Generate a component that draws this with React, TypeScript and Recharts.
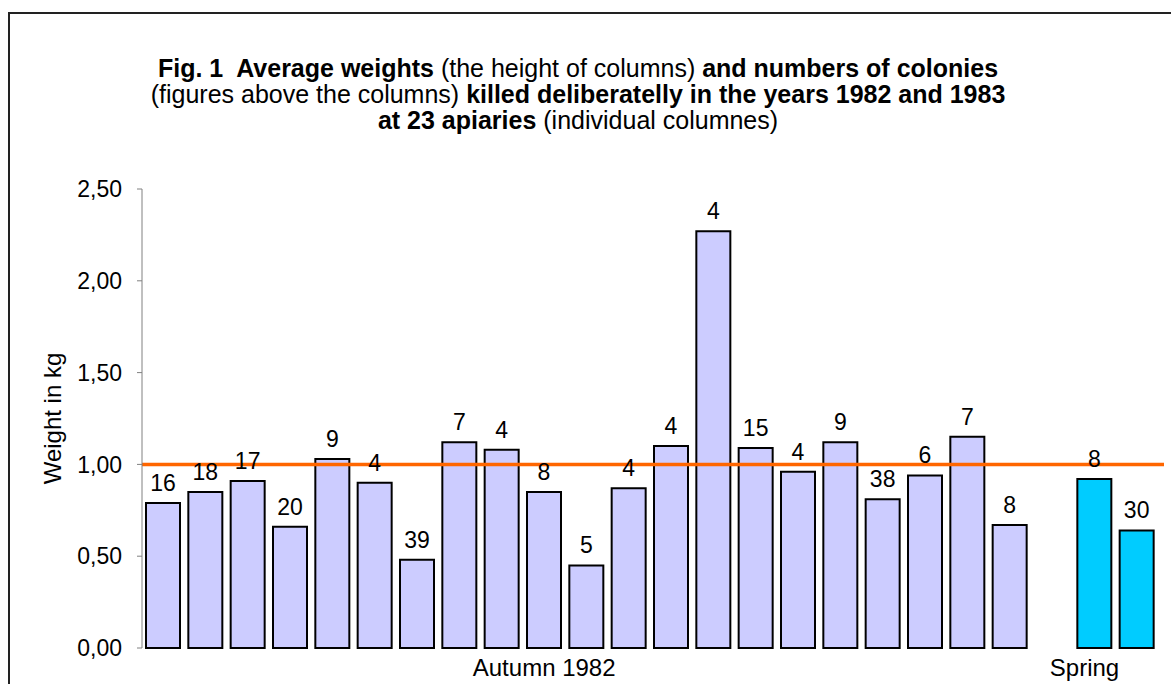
import React from 'react';
import { BarChart, Bar, XAxis, YAxis, Cell, LabelList, ReferenceLine } from 'recharts';

const autumnWeights = [0.79, 0.85, 0.91, 0.66, 1.03, 0.9, 0.48, 1.12, 1.08, 0.85, 0.45, 0.87, 1.1, 2.27, 1.09, 0.96, 1.12, 0.81, 0.94, 1.15, 0.67];
const autumnColonies = [16, 18, 17, 20, 9, 4, 39, 7, 4, 8, 5, 4, 4, 4, 15, 4, 9, 38, 6, 7, 8];
const springWeights = [0.92, 0.64];
const springColonies = [8, 30];
const groupLabels = ['Autumn 1982', 'Spring'];
const autumnLabelIndex = 9;
const springLabelIndex = 22;
const yTicks = [0, 0.5, 1, 1.5, 2, 2.5];
const referenceValue = 1;

const AUTUMN_FILL = '#CCCCFF';
const SPRING_FILL = '#00CCFF';
const FONT = '"Liberation Sans", Arial, Helvetica, sans-serif';

type Row = { slot: string; weight: number | null; colonies: number | null; group: string; label: string };

const data: Row[] = [];
autumnWeights.forEach((w, i) => {
  data.push({ slot: 'a' + i, weight: w, colonies: autumnColonies[i], group: 'autumn', label: i === autumnLabelIndex ? groupLabels[0] : '' });
});
data.push({ slot: 'gap', weight: null, colonies: null, group: 'gap', label: '' });
springWeights.forEach((w, i) => {
  const idx = data.length;
  data.push({ slot: 's' + i, weight: w, colonies: springColonies[i], group: 'spring', label: idx === springLabelIndex ? groupLabels[1] : '' });
});

const XTick = (props: any) => {
  const { x, y, index } = props;
  const row = data[index];
  const text = row ? row.label : '';
  if (!text) return null;
  const dx = row.group === 'spring' ? -10 : 0;
  return (
    <text x={x + dx} y={y} dy={28} textAnchor="middle" fill="#000" fontSize={24} fontFamily={FONT}>
      {text}
    </text>
  );
};

const ColonyLabel = (props: any) => {
  const { x, y, width, value } = props;
  if (value === null || value === undefined) return null;
  return (
    <text x={x + width / 2} y={y - 12} textAnchor="middle" fill="#000" fontSize={23} fontFamily={FONT}>
      {value}
    </text>
  );
};

export default function App() {
  return (
    <div style={{ position: 'absolute', left: 0, top: 0, width: 1171, height: 684, overflow: 'hidden', background: '#fff', fontFamily: FONT }}>
      <div style={{ position: 'absolute', left: 8, top: 12, width: 1200, height: 700, borderLeft: '2px solid #222', borderTop: '2px solid #222' }} />
      <div style={{ position: 'absolute', left: 0, top: 55, width: 1156, textAlign: 'center', fontSize: 25, lineHeight: '26px', color: '#000' }}>
        <div><b>Fig. 1&nbsp; Average weights</b> (the height of columns) <b>and numbers of colonies</b></div>
        <div>(figures above the columns) <b>killed deliberatelly in the years 1982 and 1983</b></div>
        <div><b>at 23 apiaries</b> (individual columnes)</div>
      </div>
      <div style={{ position: 'absolute', left: 0, top: 0 }}>
        <BarChart width={1171} height={684} data={data} margin={{ top: 189, right: 7, bottom: 0, left: 82 }}>
          <XAxis
            dataKey="slot"
            type="category"
            height={36}
            interval={0}
            axisLine={false}
            tickLine={false}
            tickSize={0}
            tickMargin={0}
            padding={{ left: 0, right: 6 }}
            tick={<XTick />}
          />
          <YAxis
            type="number"
            width={60}
            domain={[0, 2.5]}
            ticks={yTicks}
            interval={0}
            tickSize={5}
            tickMargin={15}
            stroke="#808080"
            tick={{ fill: '#000', fontSize: 23, fontFamily: FONT }}
            tickFormatter={(v: number) => v.toFixed(2).replace('.', ',')}
            label={{ value: 'Weight in kg', angle: -90, position: 'center', dx: -60, fill: '#000', fontSize: 24, fontFamily: FONT }}
          />
          <Bar dataKey="weight" barSize={34} stroke="#000" strokeWidth={2} isAnimationActive={false}>
            {data.map((d, i) => (
              <Cell key={i} fill={d.group === 'spring' ? SPRING_FILL : AUTUMN_FILL} />
            ))}
            <LabelList dataKey="colonies" content={<ColonyLabel />} />
          </Bar>
          <ReferenceLine y={referenceValue} stroke="#FF6600" strokeWidth={3.5} ifOverflow="visible" />
        </BarChart>
      </div>
    </div>
  );
}
